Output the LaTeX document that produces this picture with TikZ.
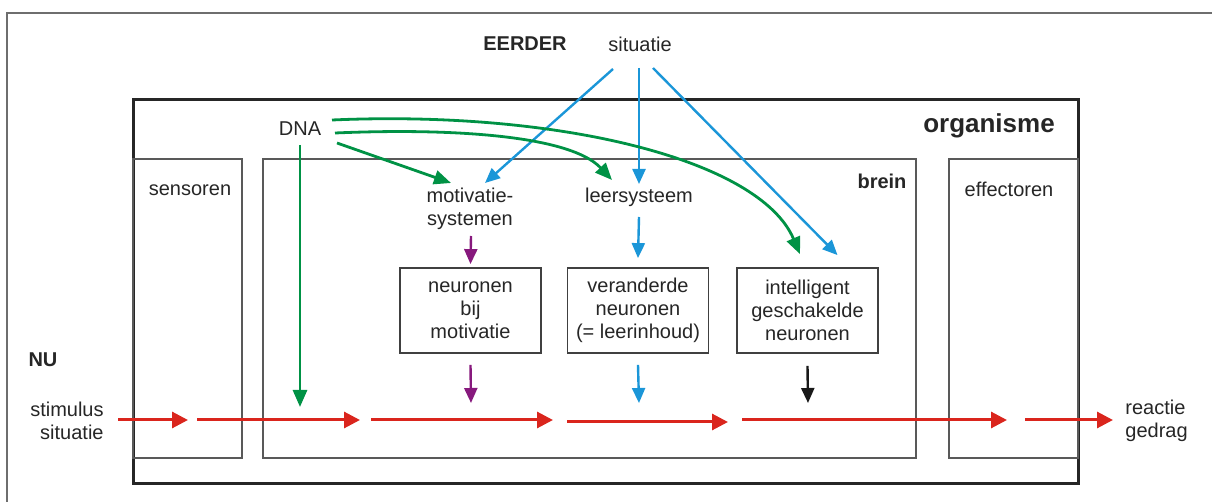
\documentclass[tikz,border=0pt]{standalone}
\usepackage{fontspec}
\setmainfont{Liberation Sans}
\usetikzlibrary{arrows.meta, calc}

\definecolor{pijlrood}{RGB}{218,37,29}
\definecolor{dnagroen}{RGB}{0,146,69}
\definecolor{leerblauw}{RGB}{27,150,216}
\definecolor{motipaars}{RGB}{135,25,125}
\definecolor{randgrijs}{RGB}{110,110,110}

\tikzset{
  lbl/.style={inner sep=0pt, font=\fontsize{10}{11.5}\selectfont, align=center, text=black!85},
  kop/.style={lbl, font=\fontsize{10}{12}\selectfont\bfseries},
  neurbox/.style={lbl, draw=black!75, line width=0.9pt, minimum width=70.5pt, minimum height=42.5pt},
  rood/.style={draw=pijlrood, line width=1.5pt, -{Triangle[length=8pt,width=8pt]}},
  groen/.style={draw=dnagroen, line width=1.4pt, -{Triangle[length=8.5pt,width=7pt]}},
  blauw/.style={draw=leerblauw, line width=1.2pt, -{Triangle[length=7.5pt,width=6.5pt]}},
  paars/.style={draw=motipaars, line width=1.2pt, -{Triangle[length=7.5pt,width=6.5pt]}},
  zwart/.style={draw=black!90, line width=1.2pt, -{Triangle[length=7.5pt,width=6.5pt]}},
}

\begin{document}
\begin{tikzpicture}[x=0.5pt, y=-0.5pt]
\useasboundingbox (0,0) rectangle (1212,502);
% kaders
\draw[randgrijs, line width=1.4pt] (7,502) -- (7,13) -- (1212,13);
\draw[black!85, line width=1.5pt] (133,100) rectangle (1078,484);
\draw[black!65, line width=0.9pt] (133,159) rectangle (242,458);
\draw[black!65, line width=0.9pt] (263,159) rectangle (916,458);
\draw[black!65, line width=0.9pt] (949,159) rectangle (1078,458);

\node[kop] (eerder) at (525,44) {EERDER};
\node[lbl] (situatie) at (640,44) {situatie};
\node[lbl] (dna) at (300,129) {DNA};
\node[kop, font=\fontsize{13}{15}\selectfont\bfseries] (organisme) at (989,126) {organisme};
\node[kop] (brein) at (882,181) {brein};
\node[lbl] (sensoren) at (190,190) {sensoren};
\node[lbl] (effectoren) at (1009,189) {effectoren};
\node[lbl] (motivatie) at (470,209) {motivatie-\\systemen};
\node[lbl] (leersysteem) at (639,197) {leersysteem};
\node[neurbox] (motneur) at (470.5,310.5) {neuronen\\bij\\motivatie};
\node[neurbox] (verneur) at (638,310.5) {veranderde\\neuronen\\(= leerinhoud)};
\node[neurbox] (intneur) at (807.5,310.5) {intelligent\\geschakelde\\neuronen};
\node[kop] (nu) at (43,360) {NU};
\node[lbl, anchor=east, align=right] (stimulus) at (104,421) {stimulus\\situatie};
\node[lbl, anchor=west, align=left] (reactie) at (1125,421) {reactie\\gedrag};

% eerder: situatie
\draw[blauw] ($(situatie.center)+(-27,25)$) -- ($(motivatie.center)+(15,-26)$);
\draw[blauw] ($(situatie.center)+(-1,24)$) -- ($(leersysteem.center)+(0,-13)$);
\draw[blauw] ($(situatie.center)+(13,24)$) -- ($(intneur.north)+(30,-12)$);

% DNA
\draw[groen] ($(dna.center)+(37,14)$) -- ($(motivatie.center)+(-19,-26)$);
\draw[groen] ($(dna.center)+(35,4)$) .. controls (450,128) and (570,135) .. ($(leersysteem.center)+(-27,-17)$);
\draw[groen] ($(dna.center)+(32,-9)$) .. controls (560,110) and (760,160) .. ($(intneur.north)+(-7.5,-13)$);
\coordinate (dnavoet) at (300,407);
\draw[groen] ($(dna.center)+(0,16)$) -- (dnavoet);

\draw[paars] ($(motivatie.center)+(1,27)$) -- ($(motneur.north)+(0,-3)$);
\draw[blauw] ($(leersysteem.center)+(0,20)$) -- ($(verneur.north)+(0,-9)$);

% nu: naar het gedrag
\coordinate (motvoet) at (471,403);
\coordinate (vervoet) at (639,403);
\coordinate (intvoet) at (808,403);
\draw[paars] ($(motneur.south)+(0,11)$) -- (motvoet);
\draw[blauw] ($(verneur.south)+(0,11)$) -- (vervoet);
\draw[zwart] ($(intneur.south)+(0,12)$) -- (intvoet);

\foreach \a/\b/\y [count=\i] in {118/188/420, 197/360/420, 371/553/420, 567/728/422, 742/1007/420, 1025/1113/420} {
  \coordinate (rs\i) at (\a,\y);
  \coordinate (re\i) at (\b,\y);
  \draw[rood] (rs\i) -- (re\i);
}
\end{tikzpicture}
\end{document}
